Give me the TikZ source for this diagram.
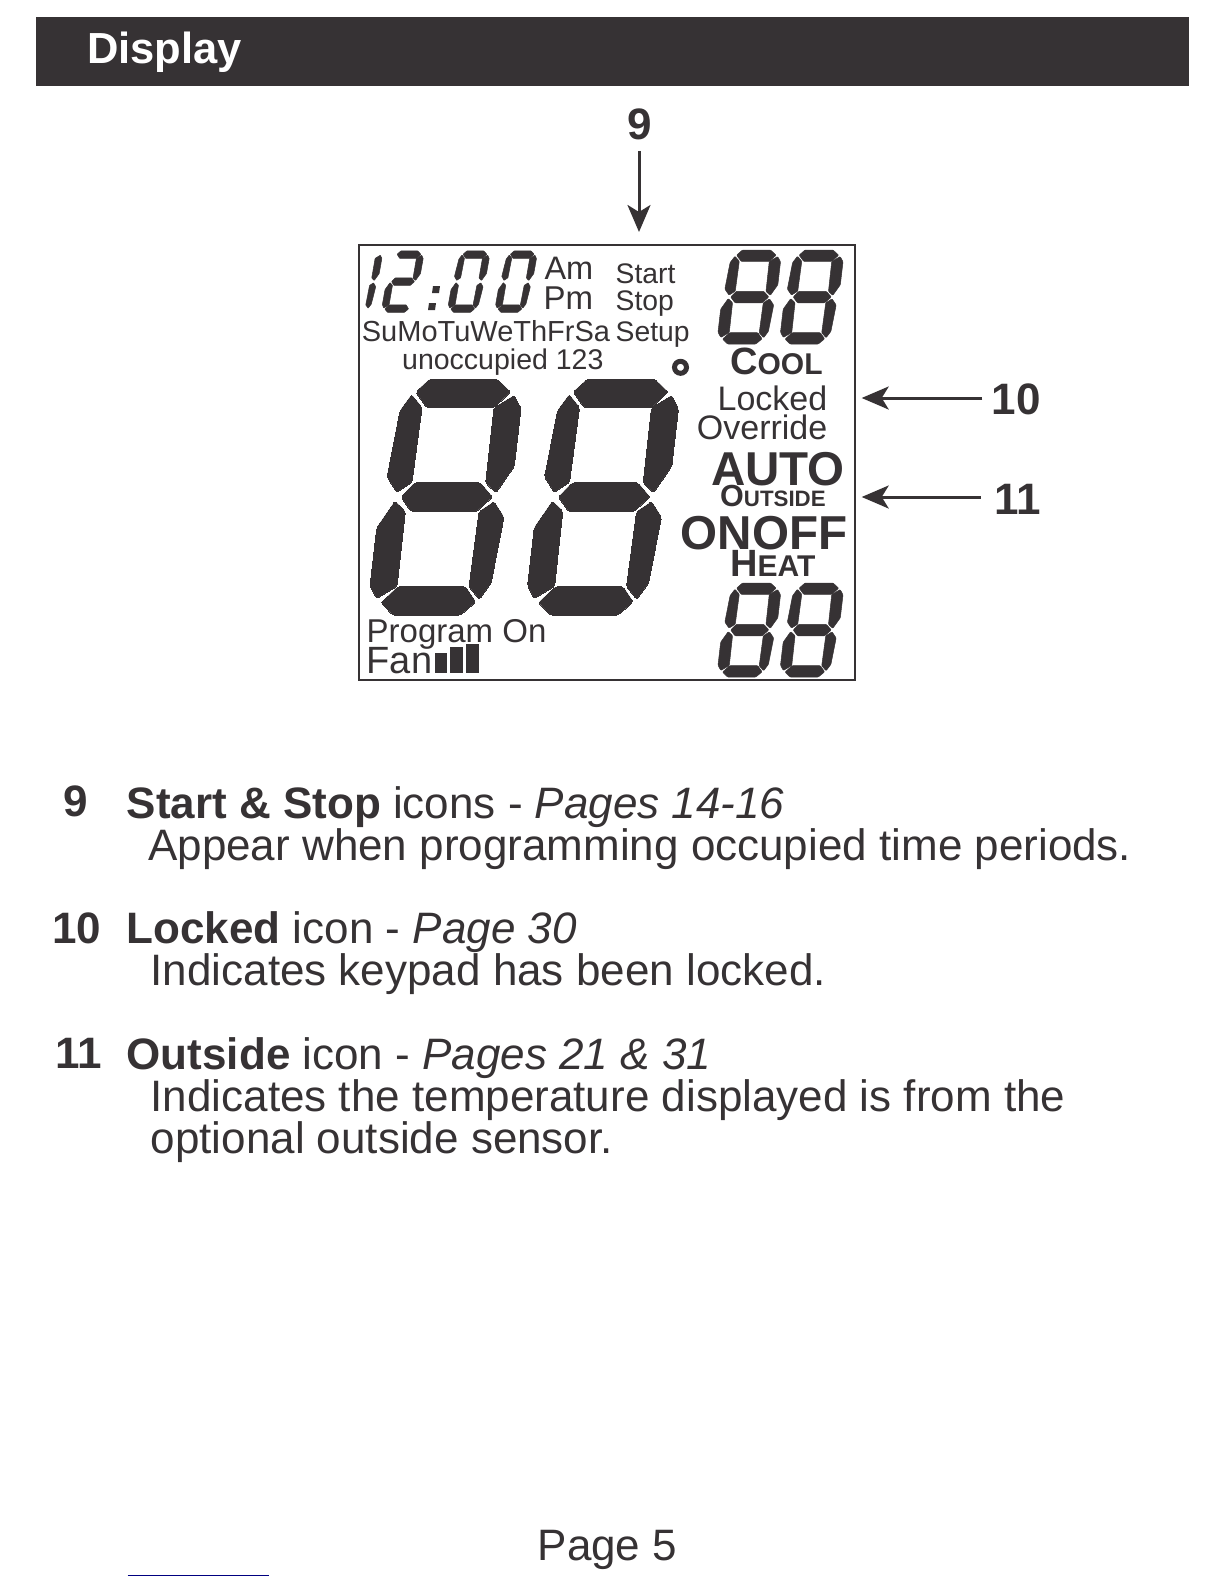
\documentclass[tikz,border=0pt]{standalone}
\usepackage{fontspec}
\setmainfont{Liberation Sans}
\usetikzlibrary{arrows.meta,positioning}
\definecolor{ink}{HTML}{363234}
\newcommand{\fs}[1]{\fontsize{#1}{#1}\selectfont}
% the seven segments of one digit, in a box 10.7 wide and 20 high
\newcommand{\segA}{(1.4,18.9)--(2.4,20)--(8,20)--(9.3,18.9)--(8.14,17.57)--(2.54,17.57)--cycle}
\newcommand{\segB}{(9.66,18.6)--(10.4,17.5)--(10.65,12.6)--(9.5,10.35)--(8.5,11.2)--(8.14,17.57)--cycle}
\newcommand{\segC}{(9.47,9.6)--(10.5,8.3)--(10.35,2.7)--(9.6,1.33)--(8.56,2.4)--(8.35,8.76)--cycle}
\newcommand{\segD}{(1.46,1.05)--(2.63,2.4)--(8.28,2.4)--(9.34,1.1)--(8.26,0)--(2.6,0)--cycle}
\newcommand{\segE}{(1.04,1.4)--(0.3,2.5)--(0.05,7.4)--(1.2,9.65)--(2.2,8.8)--(2.56,2.43)--cycle}
\newcommand{\segF}{(1.23,10.4)--(0.2,11.7)--(0.35,17.3)--(1.1,18.67)--(2.14,17.6)--(2.35,11.24)--cycle}
\newcommand{\segG}{(1.64,10)--(2.57,11.2)--(8.07,11.2)--(9.26,10)--(8.13,8.76)--(2.7,8.76)--cycle}
\newcommand{\lcddigit}[4]{%
  \begin{scope}[shift={(#1,#2)}, #3]
    \foreach \s in {#4} {\filldraw[ink] \csname seg\s\endcsname;}
  \end{scope}}

\begin{document}
\begin{tikzpicture}[
  x=1pt, y=-1pt,
  large/.style={x={(12pt,0pt)}, y={(1.98pt,11.8pt)}, rounded corners=2pt, line width=0pt},
  small/.style={x={(5pt,0pt)}, y={(0.8pt,4.7pt)}, rounded corners=0.8pt, line width=0.5pt},
  clock/.style={x={(3pt,0pt)}, y={(0.7pt,3.07pt)}, rounded corners=0.4pt, line width=0.5pt},
  txt/.style={anchor=base west, inner sep=0pt, text=ink, font=\fs{#1}},
  rtxt/.style={anchor=base east, inner sep=0pt, text=ink, font=\fs{#1}},
  btxt/.style={anchor=base west, inner sep=0pt, text=ink, font=\fs{#1}\bfseries},
  num/.style={inner sep=0pt, text=ink, font=\fs{44}\bfseries},
  keynum/.style={anchor=base, inner sep=0pt, text=ink, font=\fs{44}\bfseries},
  arr/.style={-{Stealth[length=27pt,width=23pt,inset=7pt]}, line width=3pt, ink, shorten <=9pt},
  bar/.style={fill=ink, inner sep=0pt, anchor=south west}
]
\useasboundingbox (0,0) rectangle (1224,1584);

% header
\node[fill=ink, inner sep=0pt, minimum width=1153pt, minimum height=68.7pt, anchor=north west] (header) at (36,17.3) {};
\node[txt=43, text=white, font=\fs{43.5}\bfseries] (title) at (87,63.5) {Display};

% lcd
\node[draw=ink, line width=2pt, inner sep=0pt, minimum width=495.5pt, minimum height=435.5pt, anchor=north west] (box) at (358.3,243.8) {};
\lcddigit{361.5}{615}{large}{A,B,C,D,E,F,G}
\lcddigit{519}{615}{large}{A,B,C,D,E,F,G}
\lcddigit{714.5}{344}{small}{A,B,C,D,E,F,G}
\lcddigit{777}{344}{small}{A,B,C,D,E,F,G}
\lcddigit{714.5}{677}{small}{A,B,C,D,E,F,G}
\lcddigit{777}{677}{small}{A,B,C,D,E,F,G}
\lcddigit{338.4}{312.3}{clock}{B,C}
\lcddigit{379.7}{312.3}{clock}{A,B,D,E,G}
\lcddigit{445.7}{312.3}{clock}{A,B,C,D,E,F}
\lcddigit{493}{312.3}{clock}{A,B,C,D,E,F}
\fill[ink] (433,286)--(440,286)--(439,293)--(432,293)--cycle;
\fill[ink] (429,303)--(436,303)--(435,310)--(428,310)--cycle;

\node[txt=32.5] (am) at (544.3,279.3) {Am};
\node[txt=33] (pm) at (543.5,309.5) {Pm};
\node[txt=28.3] (start) at (615.5,283.3) {Start};
\node[txt=28.3] (stop) at (615.5,310.5) {Stop};
\node[txt=28.3] (setup) at (615.5,341.5) {Setup};
\node[txt=29] (days) at (361.7,341.5) {SuMoTuWeThFrSa};
\node[txt=28.5] (unocc) at (402,369.5) {unoccupied 123};
\node[circle, draw=ink, line width=5pt, inner sep=0pt, minimum size=12pt] (deg) at (680.5,367.3) {};
\node[btxt=38] (cool) at (730,374) {C\fs{30}OOL};
\node[rtxt=34] (locked) at (827.5,410.3) {Locked};
\node[rtxt=34] (override) at (827.5,439.3) {Override};
\node[btxt=47.5] (auto) at (711,485.7) {AUTO};
\node[btxt=30.5] (outside) at (720,506.7) {O\fs{22.3}UTSIDE};
\node[btxt=47.6] (onoff) at (680.7,549.3) {ONOFF};
\node[btxt=38] (heat) at (730,576) {H\fs{30}EAT};
\node[txt=33] (prog) at (366.5,642.5) {Program On};
\node[txt=38] (fan) at (366.5,673) {Fan};
\node[bar, minimum width=12.5pt, minimum height=20pt] (bar1) at (434.3,673.3) {};
\node[bar, minimum width=12.7pt, minimum height=26.6pt] (bar2) at (450,673.3) {};
\node[bar, minimum width=13pt, minimum height=29.3pt] (bar3) at (466,673.3) {};

% arrows
\node[num] (lab9) at (639.5,124) {9};
\node[num] (lab10) at (1016,399) {10};
\node[num] (lab11) at (1018,499) {11};
\coordinate (tip9) at (639,232);
\coordinate (tip10) at (861.7,398);
\coordinate (tip11) at (861.7,497);
\draw[arr] (lab9.south -| tip9) ++(0,2) -- (tip9);
\draw[arr] (tip10 -| lab10.west) -- (tip10);
\draw[arr, shorten <=14pt] (tip11 -| lab11.west) -- (tip11);

% key
\node[keynum] (key9) at (75.7,816) {9};
\node[txt=44] (head9) at (126.5,818) {\bfseries Start \& Stop\mdseries{} icons - \itshape Pages 14-16};
\node[txt=44] (body9) at (148,860.5) {Appear when programming occupied time periods.};
\node[keynum] (key10) at (76.5,943) {10};
\node[txt=44] (head10) at (126.5,943.5) {\bfseries Locked\mdseries{} icon - \itshape Page 30};
\node[txt=44] (body10) at (150.5,985.5) {Indicates keypad has been locked.};
\node[keynum] (key11) at (78.5,1068) {11};
\node[txt=44] (head11) at (126.5,1069.5) {\bfseries Outside\mdseries{} icon - \itshape Pages 21 \& 31};
\node[txt=44] (body11) at (150.5,1111) {Indicates the temperature displayed is from the};
\node[txt=44] (body11b) at (150.5,1153) {optional outside sensor.};

% foot
\node[txt=44] (page) at (537.5,1560) {Page 5};
\draw[blue!50!black, line width=1pt] (127.5,1575) -- (268.5,1575);
\end{tikzpicture}
\end{document}
